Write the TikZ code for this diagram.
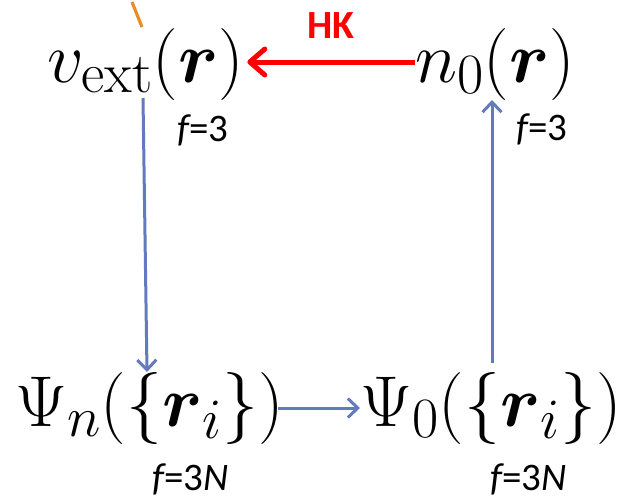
\RequirePackage{fix-cm}
\documentclass[tikz,border=0pt]{standalone}
\usepackage{amsmath}
\usepackage{fontspec}
\newfontfamily\carlito{Carlito}
\usetikzlibrary{arrows.meta}
\DeclareMathSizes{72}{72}{57}{46}
\definecolor{arrowblue}{RGB}{100,122,190}
\definecolor{hkred}{RGB}{255,0,0}
\definecolor{orng}{RGB}{232,142,40}
\tikzset{
  bigmath/.style={inner sep=0pt, font=\fontsize{72}{86}\selectfont},
  flabel/.style={inner sep=0pt, font=\fontsize{39}{46}\selectfont\carlito},
  hklabel/.style={inner sep=0pt, text=hkred, font=\fontsize{40}{46}\selectfont\carlito\bfseries},
  bluearrow/.style={draw=arrowblue, line width=3pt, -{Straight Barb[length=10pt,width=19pt]}},
  redarrow/.style={draw=hkred, line width=5pt, -{Straight Barb[length=15pt,width=26pt,round]}},
}
\newcommand{\fit}[1]{{\itshape #1}}
\begin{document}
\begin{tikzpicture}[x=1pt,y=-1pt]
\useasboundingbox (0,0) rectangle (621,499);
\node[bigmath, anchor=base west] (vext) at (47,82) {$v_{\mathrm{ext}}(\boldsymbol{r})$};
\node[bigmath, anchor=base west] (n0) at (415,82) {$n_0(\boldsymbol{r})$};
\node[bigmath, anchor=base west] (psin) at (15,426) {$\Psi_n(\{\boldsymbol{r}_i\})$};
\node[bigmath, anchor=base west] (psi0) at (360,426) {$\Psi_0(\{\boldsymbol{r}_i\})$};
\node[hklabel, anchor=base west] (hk) at (307,38) {HK};
\node[flabel, anchor=base west] (f1) at (177,141) {\fit{f}=3};
\node[flabel, anchor=base west] (f2) at (516,140) {\fit{f}=3};
\node[flabel, anchor=base west] (f3) at (152,490) {\fit{f}=3\fit{N}};
\node[flabel, anchor=base west] (f4) at (490,490) {\fit{f}=3\fit{N}};
\draw[redarrow] ([yshift=20pt]n0.base west) -- ([xshift=3pt,yshift=20pt]vext.base east);
\draw[bluearrow] ([xshift=96pt,yshift=-16pt]vext.base west) -- ([xshift=132pt,yshift=54pt]psin.base west);
\draw[bluearrow] ([xshift=263pt,yshift=18pt]psin.base west) -- ([xshift=0pt,yshift=18pt]psi0.base west);
\draw[bluearrow] ([xshift=132pt,yshift=63pt]psi0.base west) -- ([xshift=77pt,yshift=-18pt]n0.base west);
\coordinate (oa) at (132,2);
\coordinate (ob) at (142,27);
\draw[orng, line width=3.2pt] (oa) -- (ob);
\end{tikzpicture}
\end{document}
